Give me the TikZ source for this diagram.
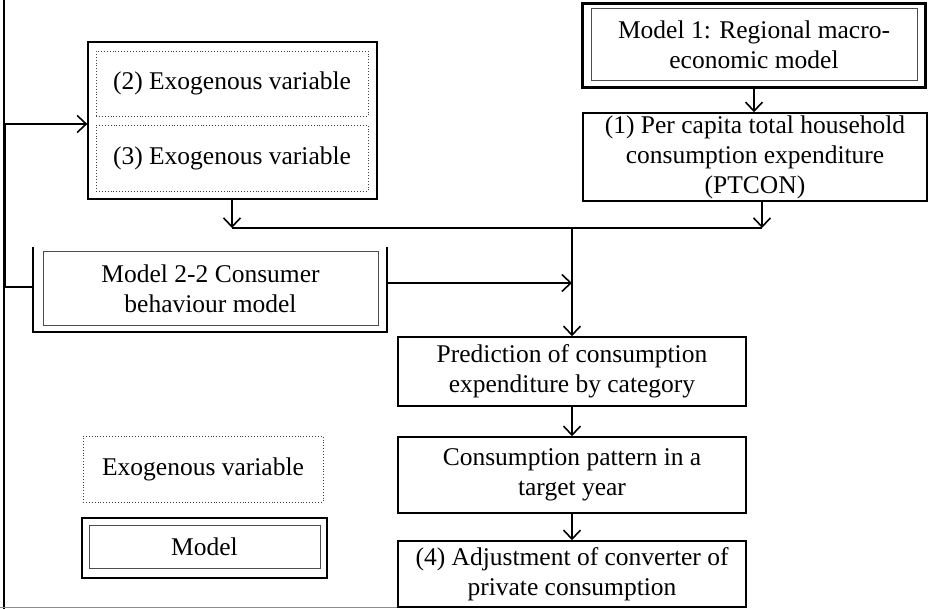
\documentclass[tikz,border=0pt]{standalone}
\usepackage{fontspec}
\setmainfont{Liberation Serif}
\usetikzlibrary{arrows.meta}
\tikzset{
  txt/.style={font=\fontsize{25.5}{30}\selectfont, align=center, inner sep=0pt},
  solidbox/.style={txt, draw, line width=1.5pt},
  dotbox/.style={txt, draw=black!75, dotted, line width=0.9pt},
  outerbox/.style={draw, line width=1.3pt, inner sep=0pt},
  modelinner/.style={txt, draw=black!70, line width=1pt},
  conn/.style={line width=1.5pt},
  arr/.style={conn, -{Straight Barb[length=9pt,width=17pt,line width=1.6pt]}},
}
\begin{document}
\begin{tikzpicture}[x=1pt,y=-1pt]
\useasboundingbox (0,0) rectangle (928,609);
% frame
\draw[line width=1.5pt] (4,0) -- (4,609);
\draw[black!45, line width=1.2pt] (0,607.5) -- (746,607.5);

% exogenous group
\node[outerbox, minimum width=289pt, minimum height=157pt] (exog) at (232.5,120.5) {};
\node[dotbox, minimum width=272pt, minimum height=65pt] (e2) at (232,83.5) {(2) Exogenous variable};
\node[dotbox, minimum width=272pt, minimum height=66pt] (e3) at (232,158) {(3) Exogenous variable};

% model 1
\node[draw, line width=3pt, minimum width=343pt, minimum height=84pt, inner sep=0pt] (m1o) at (754,45.5) {};
\node[modelinner, minimum width=326pt, minimum height=72pt] (m1) at (754,45) {Model 1: Regional macro-\\economic model};

% (1)
\node[solidbox, minimum width=344pt, minimum height=88pt] (p1) at (755,157) {(1) Per capita total household\\consumption expenditure\\(PTCON)};

% model 2-2
\node[modelinner, minimum width=335pt, minimum height=73pt] (m22) at (210.5,288.5) {Model 2-2 Consumer\\behaviour model};
\coordinate (m22l) at (33,287);
\coordinate (m22r) at (387,283);
\draw[line width=2.2pt] (33,247) -- (33,332) -- (387,332) -- (387,247);

% middle column
\node[solidbox, minimum width=348pt, minimum height=69pt] (pred) at (572,371.5) {Prediction of consumption\\expenditure by category};
\node[solidbox, minimum width=348pt, minimum height=76pt] (pat) at (572,475) {Consumption pattern in a\\target year};
\node[solidbox, minimum width=348pt, minimum height=66pt] (adj) at (572,574) {(4) Adjustment of converter of\\private consumption};

% legend
\node[dotbox, minimum width=240pt, minimum height=66pt] (lexo) at (203,469) {Exogenous variable};
\node[draw, line width=2.5pt, minimum width=245pt, minimum height=60pt, inner sep=0pt] (lmo) at (204.5,548) {};
\node[modelinner, minimum width=231pt, minimum height=43pt] (lm) at (204.5,546.5) {Model};

% connectors
\coordinate (J) at (572,228);
\coordinate (Jexo) at (232,228);
\coordinate (Jp1) at (762,228);
\coordinate (L1) at (5,287);
\coordinate (L2) at (5,124);
\coordinate (m22t) at (572,283);
\draw[arr] (m1o.south) -- (m1o.south |- p1.north);
\draw[arr] ([xshift=7pt]p1.south) -- (Jp1);
\draw[arr] (exog.south -| Jexo) -- (Jexo);
\draw[conn] (Jp1) -- (Jexo);
\draw[arr] (J) -- (pred.north);
\draw[arr] (m22r) -- (m22t);
\draw[arr] (m22l) -- (L1) -- (L2) -- (L2 -| exog.west);
\draw[arr] (pred.south) -- (pat.north);
\draw[arr] (pat.south) -- (adj.north);
\end{tikzpicture}
\end{document}
